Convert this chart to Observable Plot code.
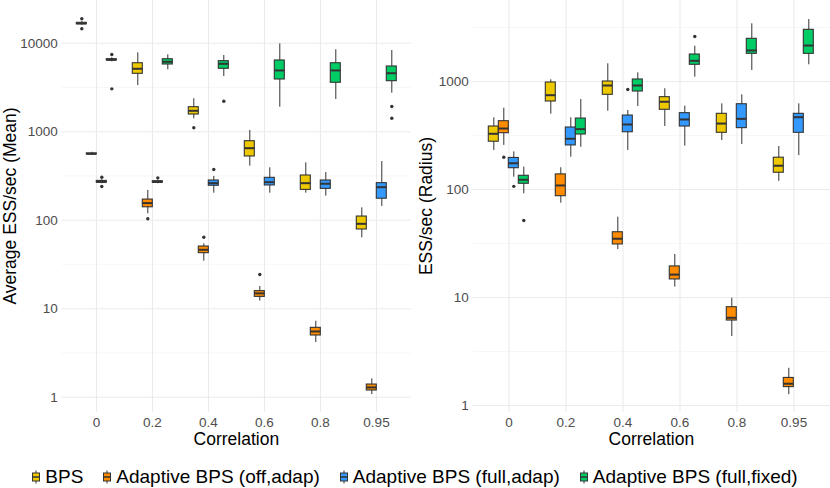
<!DOCTYPE html>
<html>
<head>
<meta charset="utf-8">
<script src="https://cdn.jsdelivr.net/npm/d3@7"></script>
<script src="https://cdn.jsdelivr.net/npm/@observablehq/plot@0.6"></script>
<style>
  body { margin: 0; background: #fff; font-family: "Liberation Sans", Arial, Helvetica, sans-serif; }
  #root { position: relative; width: 830px; height: 488px; overflow: hidden; background: #fff; }
  .panel { position: absolute; top: 0; width: 415px; height: 450px; }
  .layer { position: absolute; left: 0; top: 0; }
  .title { position: absolute; font-size: 17.5px; line-height: 1; color: #000; white-space: nowrap; transform: translate(-50%, -50%); }
  .ytitle { transform: translate(-50%, -50%) rotate(-90deg); }
  #legend { position: absolute; left: 0; top: 465px; width: 830px; height: 24px; display: flex; justify-content: center; align-items: center; font-size: 19px; color: #000; white-space: nowrap; }
  .item { display: flex; align-items: center; margin: 0 10px; }
  .item svg { margin-right: 5px; }
</style>
</head>
<body>
<div id="root">
  <div class="panel" id="left" style="left:0"></div>
  <div class="panel" id="right" style="left:415px"></div>
  <div class="title ytitle" style="left:11px; top:206px">Average ESS/sec (Mean)</div>
  <div class="title ytitle" style="left:427px; top:206px">ESS/sec (Radius)</div>
  <div class="title" style="left:236.4px; top:439.5px">Correlation</div>
  <div class="title" style="left:651.4px; top:439.5px">Correlation</div>
  <div id="legend"></div>
</div>
<script>
// ---- categories ----
const correlations = ["0", "0.2", "0.4", "0.6", "0.8", "0.95"];
const methods = ["BPS", "Adaptive BPS (off,adap)", "Adaptive BPS (full,adap)", "Adaptive BPS (full,fixed)"];
const methodColors = ["#EEC900", "#FF8C00", "#3399FF", "#00CC66"];

// ---- axis ticks ----
const yTicksMean = [1, 10, 100, 1000, 10000];
const yMinorMean = [3.162, 31.62, 316.2, 3162];
const yTicksRadius = [1, 10, 100, 1000];
const yMinorRadius = [3.162, 31.62, 316.2, 3162];

// ---- Left panel: Average ESS/sec (Mean); per correlation [lower whisker, Q1, median, Q3, upper whisker] ----
const meanBPS = [[16000, 16400, 16700, 17000, 17500], [3325, 4510, 5140, 5940, 7790], [1400, 1564, 1722, 1892, 2354], [408, 525, 651, 781, 1032], [202, 220, 262, 320, 445], [63.2, 78.5, 91, 110, 138]];
const meanOffAdap = [[545, 555, 562, 569, 585], [118, 140, 156, 171, 217], [34.4, 42.4, 46.3, 50.4, 54.1], [12.2, 13.6, 14.9, 15.8, 17.8], [4.15, 4.98, 5.53, 6.08, 7.22], [1.07, 1.19, 1.29, 1.39, 1.61]];
const meanFullAdap = [[258, 265, 272, 278, 287], [258, 265, 270, 276, 286], [202, 245, 262, 281, 312], [202, 247, 269, 301, 391], [187, 226, 258, 281, 346], [143, 175, 236, 262, 460]];
const meanFullFixed = [[6150, 6380, 6490, 6600, 6850], [5005, 5745, 6165, 6590, 7390], [4205, 5140, 5850, 6265, 7260], [1892, 3890, 4920, 6380, 9840], [2312, 3570, 4920, 5940, 8420], [2723, 3722, 4580, 5455, 8270]];
// outliers per correlation
const meanOutBPS = [[18870, 14550], [], [1107], [], [], []];
const meanOutOffAdap = [[], [104], [64.2], [24.3], [], []];
const meanOutFullAdap = [[306, 240], [301], [374], [], [], []];
const meanOutFullFixed = [[7450, 3050], [], [2212], [], [], [1927, 1421]];

// ---- Right panel: ESS/sec (Radius) ----
const radBPS = [[230, 277, 328, 383, 461], [498, 653, 747, 979, 1037], [531, 753, 918, 1000, 1459], [383, 547, 649, 716, 856], [284, 335, 408, 502, 621], [119, 143, 166, 197, 250]];
const radOffAdap = [[256, 332, 367, 429, 566], [74.7, 86.7, 109, 138, 159], [27.8, 31, 35, 40.2, 55.4], [12.5, 14.7, 16.3, 19.4, 25], [4.35, 6.12, 6.49, 8.13, 9.85], [1.26, 1.48, 1.59, 1.80, 2.21]];
const radFullAdap = [[130, 157.5, 175, 196, 223], [199, 256, 295, 375, 461], [230, 339, 400, 484, 539], [252, 383, 445, 509, 591], [261, 370, 451, 616, 753], [206, 335, 467, 502, 621]];
const radFullFixed = [[91.2, 113, 123, 134, 161], [246, 323, 362, 454, 681], [587, 808, 918, 1044, 1203], [1096, 1428, 1554, 1778, 2124], [1265, 1804, 1937, 2484, 3420], [1428, 1804, 2154, 3010, 3750]];
const radOutBPS = [[], [], [], [], [], []];
const radOutOffAdap = [[199], [], [], [], [], []];
const radOutFullAdap = [[107], [], [843], [], [], []];
const radOutFullFixed = [[51.6], [], [], [2610], [], []];

// ---- build tables ----
function toRows(stats) {
  return stats.flatMap((arr, m) => arr.map((s, i) => ({
    corr: correlations[i], method: methods[m], lo: s[0], q1: s[1], med: s[2], q3: s[3], hi: s[4]
  })));
}
function toOutliers(outs) {
  return outs.flatMap((arr, m) => arr.flatMap((vals, i) => vals.map(v => ({corr: correlations[i], method: methods[m], v}))));
}

const fontFamily = "Liberation Sans, Arial, Helvetica, sans-serif";
const H = 450, MB = 38;

function panel(el, {rows, outs, domain, ticks, minor, marginLeft, marginRight}) {
  const width = 415;
  const bg = Plot.plot({
    width, height: H, marginTop: 0, marginBottom: MB, marginLeft, marginRight,
    style: {fontFamily, background: "transparent"},
    x: {type: "band", domain: correlations, paddingInner: 0.25, paddingOuter: 0.225, axis: null},
    y: {type: "log", domain, axis: null},
    marks: [
      Plot.ruleY(minor, {stroke: "#f3f3f3", strokeWidth: 0.7}),
      Plot.ruleY(ticks, {stroke: "#ebebeb", strokeWidth: 1.1}),
      Plot.ruleX(correlations, {x: d => d, stroke: "#ebebeb", strokeWidth: 1.1}),
      Plot.axisX({tickSize: 0, tickPadding: 5, fontSize: 13.5, color: "#4d4d4d", label: null}),
      Plot.axisY(ticks, {tickSize: 0, tickPadding: 4.5, fontSize: 13.5, color: "#4d4d4d", label: null, tickFormat: d => String(d)})
    ]
  });
  const fg = Plot.plot({
    width, height: H, marginTop: 0, marginBottom: MB, marginLeft, marginRight,
    style: {fontFamily, background: "transparent"},
    fx: {domain: correlations, paddingInner: 0.25, paddingOuter: 0.225, axis: null, label: null},
    x: {domain: methods, padding: 0, axis: null},
    y: {type: "log", domain, axis: null},
    color: {domain: methods, range: methodColors},
    marks: [
      Plot.ruleX(rows, {fx: "corr", x: "method", y1: "lo", y2: "hi", stroke: "#333333", strokeWidth: 1}),
      Plot.barY(rows, {fx: "corr", x: "method", y1: "q1", y2: "q3", fill: "method", stroke: "#333333", strokeWidth: 1.1}),
      Plot.tickY(rows, {fx: "corr", x: "method", y: "med", stroke: "#333333", strokeWidth: 2}),
      Plot.dot(outs, {fx: "corr", x: "method", y: "v", r: 1.7, fill: "#333333", stroke: "none"})
    ]
  });
  bg.classList.add("layer");
  fg.classList.add("layer");
  el.append(bg, fg);
}

panel(document.getElementById("left"), {
  rows: toRows([meanBPS, meanOffAdap, meanFullAdap, meanFullFixed]),
  outs: toOutliers([meanOutBPS, meanOutOffAdap, meanOutFullAdap, meanOutFullFixed]),
  domain: [Math.pow(10, -0.1729), Math.pow(10, 4.4825)],
  ticks: yTicksMean, minor: yMinorMean, marginLeft: 61.7, marginRight: 4
});
panel(document.getElementById("right"), {
  rows: toRows([radBPS, radOffAdap, radFullAdap, radFullFixed]),
  outs: toOutliers([radOutBPS, radOutOffAdap, radOutFullAdap, radOutFullFixed]),
  domain: [Math.pow(10, -0.0648), Math.pow(10, 3.75)],
  ticks: yTicksRadius, minor: yMinorRadius, marginLeft: 57.7, marginRight: 0
});

// ---- legend ----
const legend = document.getElementById("legend");
methods.forEach((m, i) => {
  const item = document.createElement("div");
  item.className = "item";
  item.innerHTML = `<svg width="8" height="14" viewBox="0 0 8 14">
    <line x1="4" x2="4" y1="0.5" y2="13.5" stroke="#333" stroke-width="1"/>
    <rect x="0.5" y="3" width="7" height="8" fill="${methodColors[i]}" stroke="#333" stroke-width="1"/>
    <line x1="0.5" x2="7.5" y1="7" y2="7" stroke="#333" stroke-width="1.5"/>
  </svg><span>${m}</span>`;
  legend.append(item);
});
</script>
</body>
</html>
